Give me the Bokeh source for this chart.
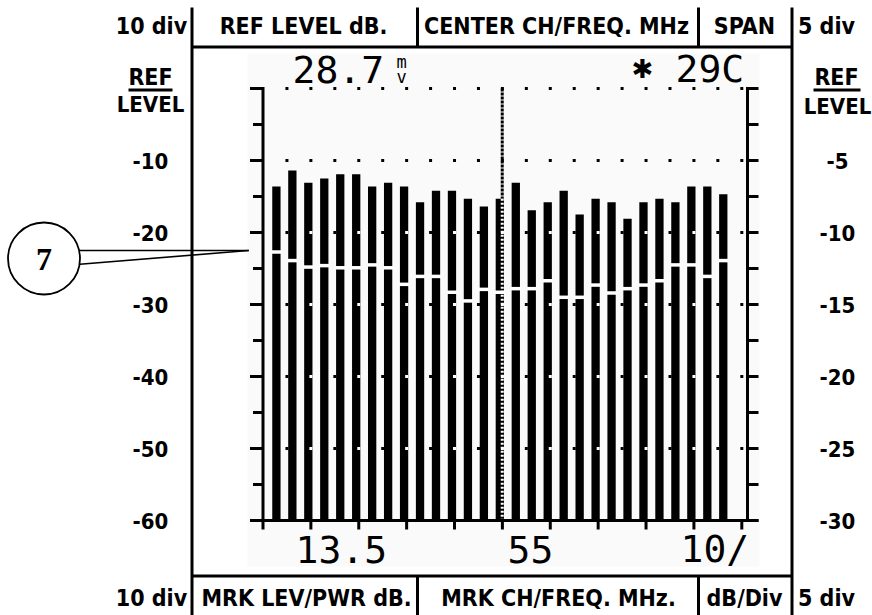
from bokeh.plotting import figure
from bokeh.models import Range1d
from bokeh.embed import file_html
from bokeh.resources import INLINE
from bokeh.core.properties import value

# ---------------- data ----------------
channel_levels_db = [-13.6, -11.4, -13.1, -12.5, -11.9, -11.9, -13.6, -13.1, -13.6, -15.8,
                     -14.2, -14.2, -15.3, -16.4, -15.3, -13.1, -16.9, -15.8, -14.2, -17.5,
                     -15.3, -15.8, -18.1, -15.8, -15.3, -15.8, -13.6, -13.6, -14.7]
trace_levels_db = [-22.7, -23.9, -24.8, -24.6, -24.9, -24.9, -24.5, -24.9, -27.2, -26.1,
                   -26.1, -28.3, -29.5, -27.9, -28.3, -27.8, -27.8, -26.7, -29.0, -29.0,
                   -27.3, -28.4, -27.8, -27.3, -26.7, -24.5, -24.5, -26.1, -23.9]
left_tick_values = [-10, -20, -30, -40, -50, -60]
left_tick_labels = ["-10", "-20", "-30", "-40", "-50", "-60"]
right_tick_labels = ["-5", "-10", "-15", "-20", "-25", "-30"]
header_labels = ["REF LEVEL dB.", "CENTER CH/FREQ. MHz", "SPAN"]
footer_labels = ["MRK LEV/PWR dB.", "MRK CH/FREQ. MHz.", "dB/Div"]
div_labels = ["10 div", "5 div"]
readout_ref = "28.7"
readout_temp = "29C"
readout_marker_level = "13.5"
readout_marker_channel = "55"
readout_scale = "10/"
callout_label = "7"

REF_DB = 0
FLOOR_DB = -60

# ---------------- screen <-> data helpers (layout only) ----------------
PX_PER_CH = 15.96
PX_PER_DB = 7.2
CH0_PX = 275.9
REF_PX = 88.0


def dx(X):
    return (X - CH0_PX) / PX_PER_CH


def dy(Y):
    return REF_DB - (Y - REF_PX) / PX_PER_DB


W, H = 872, 615
p = figure(width=W, height=H, output_backend="svg", toolbar_location=None,
           x_range=Range1d(dx(0), dx(W)), y_range=Range1d(dy(H), dy(0)),
           x_axis_type=None, y_axis_type=None, min_border=0,
           outline_line_color=None, background_fill_color="white",
           border_fill_color="white")

SANS = value("Liberation Sans Narrow, DejaVu Sans Condensed, Roboto, sans-serif")
MONO = value("DejaVu Sans Mono")
BLACK = "black"
WEIGHT = "bold"

# LCD background
p.quad(left=[dx(247)], right=[dx(759)], top=[dy(53)], bottom=[dy(566)],
       fill_color="#fafafa", line_color=None)

# ---------------- frame of the panel ----------------
LW = 3
xl, xr = dx(191.5), dx(791.5)
xs1, xs2 = dx(417), dx(698)
yt, yh, yf, yb = dy(7), dy(46.5), dy(575.5), dy(615)
p.segment(x0=[xl, xr, xl, xl, xs1, xs2, xs1, xs2],
          y0=[yt, yt, yh, yf, yt, yt, yf, yf],
          x1=[xl, xr, xr, xr, xs1, xs2, xs1, xs2],
          y1=[yb, yb, yh, yf, yh, yh, yb, yb],
          line_color=BLACK, line_width=LW)

# header / footer texts
p.text(x=[dx(303), dx(556), dx(744)], y=[dy(25)] * 3, text=header_labels,
       text_font=SANS, text_font_size="23px", text_font_style=WEIGHT, text_align="center",
       text_baseline="middle", text_color=BLACK)
p.text(x=[dx(306), dx(558), dx(744)], y=[dy(597)] * 3, text=footer_labels,
       text_font=SANS, text_font_size="23px", text_font_style=WEIGHT, text_align="center",
       text_baseline="middle", text_color=BLACK)
p.text(x=[dx(151), dx(826), dx(151), dx(826)], y=[dy(25), dy(25), dy(597), dy(597)],
       text=[div_labels[0], div_labels[1], div_labels[0], div_labels[1]],
       text_font=SANS, text_font_size="23px", text_font_style=WEIGHT, text_align="center",
       text_baseline="middle", text_color=BLACK)

# REF LEVEL titles on both sides
p.text(x=[dx(150), dx(836)], y=[dy(76), dy(76)], text=["REF", "REF"],
       text_font=SANS, text_font_size="23px", text_font_style=WEIGHT, text_align="center",
       text_baseline="middle", text_color=BLACK)
p.segment(x0=[dx(128), dx(813)], x1=[dx(172), dx(860)], y0=[dy(89.5)] * 2,
          y1=[dy(89.5)] * 2, line_color=BLACK, line_width=3)
p.text(x=[dx(150), dx(837)], y=[dy(104), dy(106)], text=["LEVEL", "LEVEL"],
       text_font=SANS, text_font_size="22px", text_font_style=WEIGHT, text_align="center",
       text_baseline="middle", text_color=BLACK)

# side scale labels
p.text(x=[dx(150)] * len(left_tick_values), y=left_tick_values, text=left_tick_labels,
       text_font=SANS, text_font_size="22px", text_font_style=WEIGHT, text_align="center",
       text_baseline="middle", text_color=BLACK)
p.text(x=[dx(837)] * len(left_tick_values), y=left_tick_values, text=right_tick_labels,
       text_font=SANS, text_font_size="22px", text_font_style=WEIGHT, text_align="center",
       text_baseline="middle", text_color=BLACK)

# ---------------- spectrum display ----------------
n = len(channel_levels_db)
chans = list(range(n))
BAR_W = 0.52
axis_left = dx(262.5)
axis_right = dx(747)
tick_long = 13 / PX_PER_CH
tick_short = 10 / PX_PER_CH

# bars
p.vbar(x=chans, top=channel_levels_db, bottom=FLOOR_DB, width=BAR_W,
       fill_color=BLACK, line_color=None)
# white trace cutting the bars
p.rect(x=chans, y=trace_levels_db, width=0.62, height=3.5, height_units="screen",
       fill_color="white", line_color=None)

# dotted grid (xor with bars)
grid_x = [axis_left + 1.5 * m for m in range(1, 21)]
grid_levels = [REF_DB - 10 * k for k in range(6)]
gx, gy, gc = [], [], []
for lev in grid_levels:
    for x in grid_x:
        covered = any(abs(x - c) <= BAR_W / 2 and lev <= channel_levels_db[c] for c in chans)
        gx.append(x)
        gy.append(lev)
        gc.append("white" if covered else BLACK)
p.scatter(x=gx, y=gy, marker="square", size=3, fill_color=gc, line_color=None)

# centre marker
centre = n // 2
mx = centre + 0.15
p.segment(x0=[mx], x1=[mx], y0=[REF_DB], y1=[channel_levels_db[centre]],
          line_color=BLACK, line_width=3, line_dash="3 1")
p.segment(x0=[mx], x1=[mx], y0=[channel_levels_db[centre]], y1=[FLOOR_DB],
          line_color="white", line_width=3, line_dash="2 2")

# left axis
ticks5 = [REF_DB - 5 * k for k in range(13)]
p.segment(x0=[axis_left], x1=[axis_left], y0=[REF_DB + 0.2], y1=[FLOOR_DB],
          line_color=BLACK, line_width=3)
p.segment(x0=[axis_left - (tick_long if t % 10 == 0 else tick_short) for t in ticks5],
          x1=[axis_left] * len(ticks5), y0=ticks5, y1=ticks5,
          line_color=BLACK, line_width=3)
# right axis
p.segment(x0=[axis_right], x1=[axis_right], y0=[REF_DB + 0.2], y1=[FLOOR_DB],
          line_color=BLACK, line_width=3)
p.segment(x0=[axis_right] * len(ticks5), x1=[axis_right + 11 / PX_PER_CH] * len(ticks5),
          y0=ticks5, y1=ticks5, line_color=BLACK, line_width=3)
# bottom axis
xticks = [axis_left + 3 * j for j in range(11)]
p.segment(x0=[axis_left - tick_long], x1=[axis_right + 11 / PX_PER_CH],
          y0=[FLOOR_DB], y1=[FLOOR_DB], line_color=BLACK, line_width=3)
p.segment(x0=xticks, x1=xticks, y0=[FLOOR_DB] * len(xticks),
          y1=[FLOOR_DB - 9 / PX_PER_DB] * len(xticks), line_color=BLACK, line_width=3)

# LCD readouts
p.text(x=[dx(292)], y=[dy(68.5)], text=[readout_ref], text_font=MONO,
       text_font_size="38px", text_align="left", text_baseline="middle",
       text_color=BLACK)
p.text(x=[dx(401), dx(401)], y=[dy(61), dy(76.5)], text=["m", "v"], text_font=MONO,
       text_font_size="17px", text_align="center", text_baseline="middle",
       text_color=BLACK)
p.text(x=[dx(642)], y=[dy(68.5)], text=["\u2731"], text_font=value("DejaVu Sans"),
       text_font_size="26px", text_align="center", text_baseline="middle",
       text_color=BLACK)
p.text(x=[dx(675)], y=[dy(68.5)], text=[readout_temp], text_font=MONO,
       text_font_size="38px", text_align="left", text_baseline="middle",
       text_color=BLACK)
p.text(x=[dx(295), dx(507), dx(680)], y=[dy(548.5)] * 3,
       text=[readout_marker_level, readout_marker_channel, readout_scale],
       text_font=MONO, text_font_size="38px", text_align="left",
       text_baseline="middle", text_color=BLACK)

# callout "7"
tip_x, tip_y = dx(248.3), dy(250)
p.segment(x0=[dx(70), dx(70)], y0=[dy(250), dy(264.5)], x1=[tip_x, tip_x], y1=[tip_y, tip_y],
          line_color=BLACK, line_width=1.6)
p.scatter(x=[dx(43.5)], y=[dy(258)], marker="circle", size=72, fill_color="white",
          line_color=BLACK, line_width=1.8)
p.text(x=[dx(43.5)], y=[dy(259)], text=[callout_label],
       text_font=value("Liberation Serif, Times New Roman, serif"),
       text_font_size="32px", text_font_style="bold", text_align="center",
       text_baseline="middle", text_color=BLACK)

open("out.html", "w").write(file_html(p, INLINE))
